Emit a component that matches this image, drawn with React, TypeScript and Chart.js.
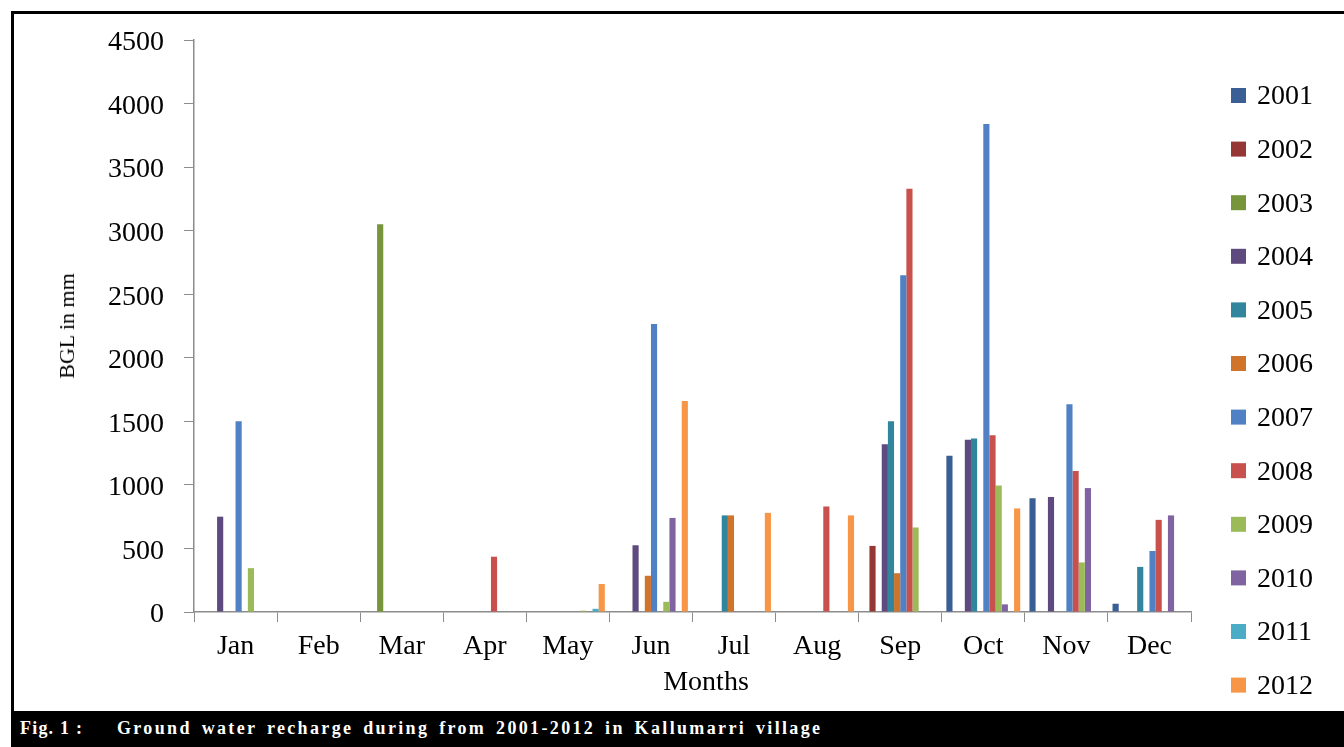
import React, { useEffect, useRef } from "react";
import { Chart, registerables } from "chart.js";

Chart.register(...registerables);

const months = ["Jan", "Feb", "Mar", "Apr", "May", "Jun", "Jul", "Aug", "Sep", "Oct", "Nov", "Dec"];
const years = ["2001", "2002", "2003", "2004", "2005", "2006", "2007", "2008", "2009", "2010", "2011", "2012"];

const y2001 = [0, 0, 0, 0, 0, 0, 0, 0, 0, 1230, 895, 65];
const y2002 = [0, 0, 0, 0, 0, 0, 0, 0, 520, 0, 0, 0];
const y2003 = [0, 0, 3050, 0, 0, 0, 0, 0, 0, 0, 0, 0];
const y2004 = [750, 0, 0, 0, 0, 525, 0, 0, 1320, 1355, 905, 0];
const y2005 = [0, 0, 0, 0, 0, 0, 760, 0, 1500, 1365, 0, 355];
const y2006 = [0, 0, 0, 0, 0, 285, 760, 0, 305, 0, 0, 0];
const y2007 = [1500, 0, 0, 0, 0, 2265, 0, 0, 2650, 3840, 1635, 480];
const y2008 = [0, 0, 0, 435, 0, 0, 0, 830, 3330, 1390, 1110, 725];
const y2009 = [345, 0, 0, 0, 10, 80, 0, 0, 665, 995, 390, 0];
const y2010 = [0, 0, 0, 0, 0, 740, 0, 0, 0, 60, 975, 760];
const y2011 = [0, 0, 0, 0, 25, 0, 0, 0, 0, 0, 0, 0];
const y2012 = [0, 0, 0, 0, 220, 1660, 780, 760, 0, 815, 0, 0];

const seriesValues = [y2001, y2002, y2003, y2004, y2005, y2006, y2007, y2008, y2009, y2010, y2011, y2012];
const seriesColors = [
  "#3A5F95", "#953735", "#77963C", "#5F4A7F", "#31859C", "#D0742C",
  "#4F81C4", "#C8504D", "#9BBB59", "#8064A2", "#4BACC6", "#F79646",
];

const yTicks = [0, 500, 1000, 1500, 2000, 2500, 3000, 3500, 4000, 4500];

const SERIF = '"Liberation Serif", "Times New Roman", serif';

const legendPlugin = {
  id: "sideLegend",
  afterDraw(chart: any) {
    const ctx = chart.ctx;
    ctx.save();
    ctx.font = `28px ${SERIF}`;
    ctx.textBaseline = "middle";
    ctx.textAlign = "left";
    chart.data.datasets.forEach((ds: any, i: number) => {
      const cy = 96 + i * 53.6;
      ctx.fillStyle = ds.backgroundColor;
      ctx.fillRect(1231, cy - 8, 15, 15);
      ctx.fillStyle = "#000";
      ctx.fillText(ds.label, 1257, cy + 1);
    });
    ctx.restore();
  },
};

export default function App() {
  const ref = useRef<HTMLCanvasElement | null>(null);

  useEffect(() => {
    if (!ref.current) return;
    const chart = new Chart(ref.current, {
      type: "bar",
      data: {
        labels: months,
        datasets: years.map((y, i) => ({
          label: y,
          data: seriesValues[i],
          backgroundColor: seriesColors[i],
          borderWidth: 0,
          categoryPercentage: 12 / 13.5,
          barPercentage: 1,
        })),
      },
      options: {
        animation: false,
        responsive: false,
        layout: { padding: { left: 0, top: 40, right: 153, bottom: 0 } },
        plugins: {
          legend: { display: false },
          tooltip: { enabled: false },
          title: { display: false },
        },
        scales: {
          x: {
            grid: {
              display: true,
              drawOnChartArea: false,
              drawTicks: true,
              tickLength: 10,
              color: "#8c8c8c",
              offset: true,
            },
            border: { display: true, color: "#8c8c8c", width: 1.5 },
            ticks: {
              font: { family: SERIF, size: 28 },
              color: "#000",
              padding: 8,
              maxRotation: 0,
            },
            afterFit: (scale: any) => {
              scale.height = 99;
            },
          },
          y: {
            min: 0,
            max: 4500,
            afterBuildTicks: (scale: any) => {
              scale.ticks = yTicks.map((v) => ({ value: v }));
            },
            grid: {
              display: true,
              drawOnChartArea: false,
              drawTicks: true,
              tickLength: 10,
              color: "#8c8c8c",
            },
            border: { display: true, color: "#8c8c8c", width: 1.5 },
            ticks: {
              font: { family: SERIF, size: 28 },
              color: "#000",
              padding: 20,
              labelOffset: 3,
              callback: (v: any) => String(v),
            },
            afterFit: (scale: any) => {
              scale.width = 194;
            },
          },
        },
      },
      plugins: [legendPlugin],
    });
    return () => chart.destroy();
  }, []);

  const captionStyle: React.CSSProperties = {
    position: "absolute",
    top: 0,
    fontFamily: SERIF,
    fontWeight: "bold",
    fontSize: 18,
    lineHeight: "34px",
    whiteSpace: "pre",
    color: "#fff",
  };

  return (
    <div style={{ position: "absolute", left: 0, top: 0, width: 1344, height: 747, background: "#fff", overflow: "hidden" }}>
      <canvas ref={ref} width={1344} height={711} style={{ position: "absolute", left: 0, top: 0 }} />
      <div style={{ position: "absolute", left: 11, top: 11, width: 1340, height: 3, background: "#000" }} />
      <div style={{ position: "absolute", left: 11, top: 11, width: 3, height: 702, background: "#000" }} />
      <div
        style={{
          position: "absolute",
          left: 67,
          top: 326,
          transform: "translate(-50%, -50%) rotate(-90deg)",
          fontFamily: SERIF,
          fontSize: 22,
          whiteSpace: "nowrap",
          color: "#000",
        }}
      >
        BGL in mm
      </div>
      <div
        style={{
          position: "absolute",
          left: 706,
          top: 681,
          transform: "translate(-50%, -50%)",
          fontFamily: SERIF,
          fontSize: 28,
          whiteSpace: "nowrap",
          color: "#000",
        }}
      >
        Months
      </div>
      <div
        style={{
          position: "absolute",
          left: 11,
          top: 711,
          width: 1333,
          height: 36,
          background: "#000",
        }}
      >
        <span style={{ ...captionStyle, left: 9, letterSpacing: 1.2 }}>{"Fig. 1 :"}</span>
        <span style={{ ...captionStyle, left: 106, letterSpacing: 2.35, wordSpacing: 3 }}>
          {"Ground water recharge during from 2001-2012 in Kallumarri village"}
        </span>
      </div>
    </div>
  );
}
